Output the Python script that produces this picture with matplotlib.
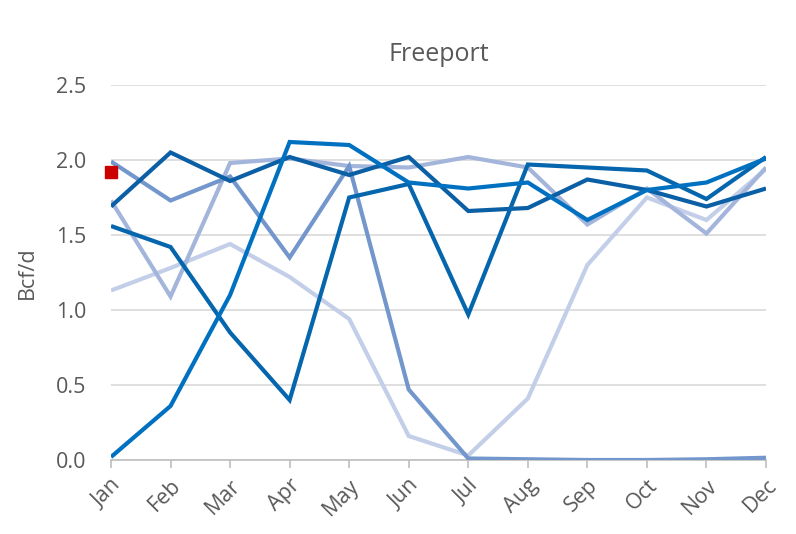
import matplotlib
matplotlib.use("Agg")
import matplotlib.pyplot as plt

months = ["Jan", "Feb", "Mar", "Apr", "May", "Jun", "Jul", "Aug", "Sep", "Oct", "Nov", "Dec"]

series_a = [1.13, 1.28, 1.44, 1.22, 0.94, 0.16, 0.03, 0.41, 1.30, 1.75, 1.60, 1.94]
series_b = [1.73, 1.09, 1.98, 2.01, 1.96, 1.95, 2.02, 1.95, 1.57, 1.81, 1.51, 1.95]
series_c = [1.99, 1.73, 1.89, 1.35, 1.96, 0.47, 0.01, 0.005, 0.0, 0.0, 0.005, 0.015]
series_d = [1.69, 2.05, 1.86, 2.02, 1.90, 2.02, 1.66, 1.68, 1.87, 1.80, 1.69, 1.81]
series_e = [1.56, 1.42, 0.85, 0.40, 1.75, 1.84, 0.97, 1.97, 1.95, 1.93, 1.74, 2.02]
series_f = [0.02, 0.36, 1.10, 2.12, 2.10, 1.85, 1.81, 1.85, 1.60, 1.80, 1.85, 2.01]
current = [1.92]

colors = ["#c3cee8", "#a4b5dc", "#7397cc", "#0b5fa5", "#0566ae", "#0071c1"]

plt.rcParams['font.family'] = ['Open Sans', 'DejaVu Sans']
fig = plt.figure(figsize=(7.96, 5.34), dpi=100)
ax = fig.add_axes([111/796, 1-460/534, (766-111)/796, (460-85)/534])

x = list(range(len(months)))
for s, c in zip([series_a, series_b, series_c, series_d, series_e, series_f], colors):
    ax.plot(x, s, color=c, lw=3.0, solid_joinstyle='miter', solid_capstyle='butt', zorder=3)
ax.plot(x[:len(current)], current, linestyle='none', marker='s', ms=8, color='#cc0000',
        zorder=4, clip_on=False)

ax.set_xlim(0, 11)
ax.set_ylim(0, 2.5)
ax.set_yticks([0, 0.5, 1.0, 1.5, 2.0, 2.5])
ax.set_yticklabels(["0.0", "0.5", "1.0", "1.5", "2.0", "2.5"])
ax.set_xticks(x)
ax.set_xticklabels(months, rotation=45, ha='right', rotation_mode='anchor')
ax.grid(axis='y', color='#d9d9d9', lw=1.2, zorder=0)
for sp in ['top', 'right', 'left']:
    ax.spines[sp].set_visible(False)
ax.spines['bottom'].set_color('#bfbfbf')
ax.spines['bottom'].set_linewidth(1.2)
ax.tick_params(axis='y', length=0, labelsize=15.5, labelcolor='#595959', pad=18)
ax.tick_params(axis='x', length=6, color='#bfbfbf', width=1.2, labelsize=15.5, labelcolor='#595959', pad=5)
ax.set_ylabel("Bcf/d", fontsize=15.5, color='#595959', labelpad=13)
ax.set_title("Freeport", fontsize=18, color='#595959', pad=17)
fig.savefig("out.png", dpi=100)
